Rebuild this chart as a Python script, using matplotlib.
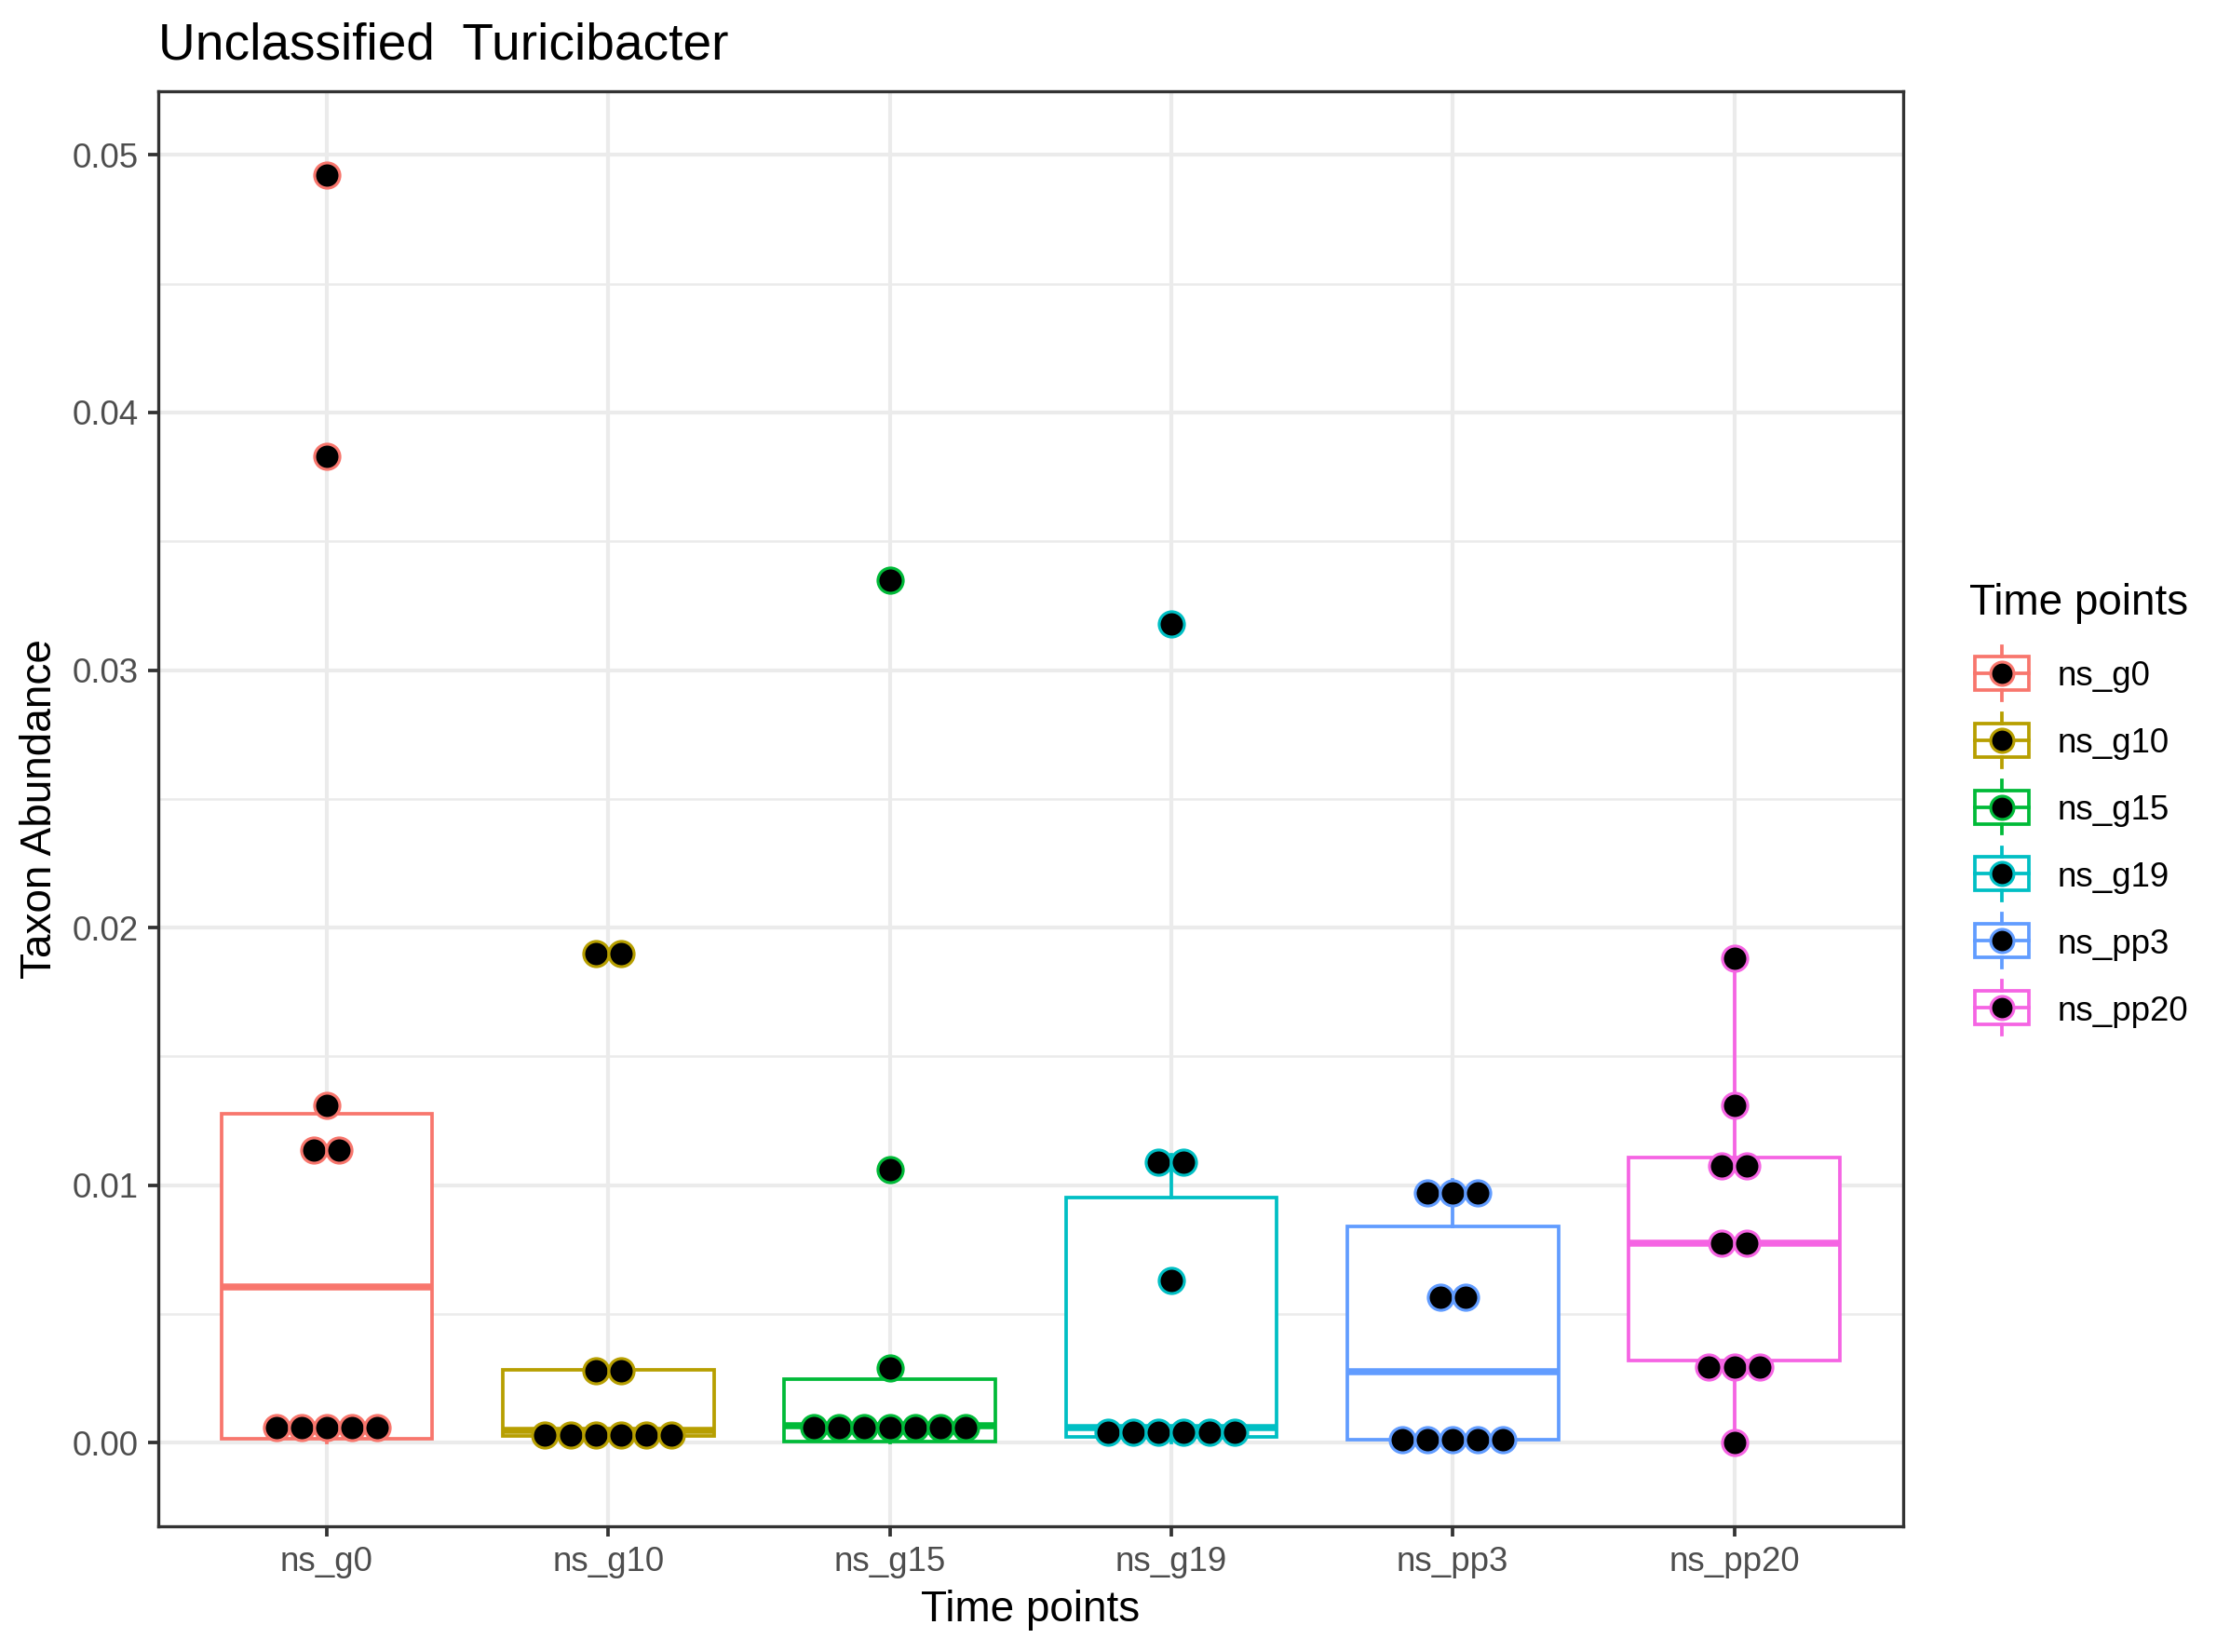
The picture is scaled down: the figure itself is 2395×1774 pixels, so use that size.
import numpy as np
import matplotlib
matplotlib.use("Agg")
import matplotlib.pyplot as plt
from matplotlib.patches import Rectangle
from matplotlib.lines import Line2D

plt.rcParams['font.family'] = ['Liberation Sans', 'DejaVu Sans']

# ---------------- data ----------------
title = "Unclassified  Turicibacter"
x_label = "Time points"
y_label = "Taxon Abundance"
legend_title = "Time points"
groups = ["ns_g0", "ns_g10", "ns_g15", "ns_g19", "ns_pp3", "ns_pp20"]
colors = ["#F8766D", "#B79F00", "#00BA38", "#00BFC4", "#619CFF", "#F564E3"]

ns_g0 = [0.0000, 0.0001, 0.0001, 0.0003, 0.0012, 0.0109, 0.0118, 0.0131, 0.0383, 0.0492]
ns_g10 = [0.0001, 0.0001, 0.0002, 0.0004, 0.0005, 0.0005, 0.0027, 0.0029, 0.0189, 0.0191]
ns_g15 = [0.0000, 0.0000, 0.0000, 0.0002, 0.0006, 0.0007, 0.0012, 0.0029, 0.0106, 0.0335]
ns_g19 = [0.0000, 0.0001, 0.0002, 0.0003, 0.0004, 0.0008, 0.0063, 0.0106, 0.0112, 0.0318]
ns_pp3 = [0.0000, 0.0001, 0.0001, 0.0002, 0.00025, 0.0053, 0.0060, 0.0092, 0.0097, 0.0102]
ns_pp20 = [0.0000, 0.0024, 0.0031, 0.0035, 0.0074, 0.0081, 0.0101, 0.0114, 0.0131, 0.0188]
values = [ns_g0, ns_g10, ns_g15, ns_g19, ns_pp3, ns_pp20]

y_ticks = [0.00, 0.01, 0.02, 0.03, 0.04, 0.05]
y_tick_labels = ["0.00", "0.01", "0.02", "0.03", "0.04", "0.05"]
y_minor = [0.005, 0.015, 0.025, 0.035, 0.045]

# ---------------- style ----------------
W, H, DPI = 2395, 1774, 300
BINWIDTH = 0.0015      # dot-density binning width (y units)
DOT_D = 0.00098        # dot diameter in y units
BOX_W = 0.75
LW = 0.9
GRID_COL = "#EBEBEB"
BORDER_COL = "#333333"
TICK_COL = "#4D4D4D"


def dot_bins(vals, width):
    v = np.sort(np.asarray(vals, dtype=float))
    bins = []
    cur = [v[0]]
    end = v[0] + width
    for x in v[1:]:
        if x >= end - 1e-12:
            bins.append(cur)
            cur = [x]
            end = x + width
        else:
            cur.append(x)
    bins.append(cur)
    return [((min(b) + max(b)) / 2.0, len(b)) for b in bins]


fig = plt.figure(figsize=(W / DPI, H / DPI), dpi=DPI)
pl, pr, pt_, pb = 169.5, 2044.0, 98.0, 1639.0
ax = fig.add_axes([pl / W, 1 - pb / H, (pr - pl) / W, (pb - pt_) / H])

ax.set_xlim(0.4, len(groups) + 0.6)
ax.set_ylim(-0.00324, 0.05247)

# grid
ax.set_yticks(y_ticks)
ax.set_yticklabels(y_tick_labels)
ax.set_yticks(y_minor, minor=True)
ax.set_xticks(range(1, len(groups) + 1))
ax.set_xticklabels(groups)
ax.grid(True, which="major", color=GRID_COL, lw=1.0, zorder=0)
ax.grid(True, which="minor", axis="y", color=GRID_COL, lw=0.6, zorder=0)
ax.set_axisbelow(True)

ax.tick_params(axis="both", which="major", length=2.75, width=0.9, color=BORDER_COL,
               labelcolor=TICK_COL, labelsize=8.8, pad=2.2)
ax.tick_params(axis="both", which="minor", length=0)
for s in ax.spines.values():
    s.set_color(BORDER_COL)
    s.set_linewidth(0.8)
    s.set_zorder(10)

# boxplots
positions = list(range(1, len(groups) + 1))
for i, (vals, col) in enumerate(zip(values, colors)):
    ax.boxplot([vals], positions=[positions[i]], widths=BOX_W, whis=1.5,
               showfliers=False, showcaps=False, patch_artist=True,
               boxprops=dict(facecolor="white", edgecolor=col, linewidth=LW),
               whiskerprops=dict(color=col, linewidth=LW),
               medianprops=dict(color=col, linewidth=LW * 2, solid_capstyle="butt"),
               zorder=2, manage_ticks=False)

# dots (dotplot, binaxis = y, stackdir = center)
fig.canvas.draw()
bb = ax.get_window_extent()
px_per_x = bb.width / (ax.get_xlim()[1] - ax.get_xlim()[0])
px_per_y = bb.height / (ax.get_ylim()[1] - ax.get_ylim()[0])
dot_px = DOT_D * px_per_y
dx = dot_px / px_per_x
dot_pt = dot_px * 72.0 / DPI
for i, (vals, col) in enumerate(zip(values, colors)):
    xs, ys = [], []
    for c, n in dot_bins(vals, BINWIDTH):
        for k in range(n):
            xs.append(positions[i] + (k - (n - 1) / 2.0) * dx)
            ys.append(c)
    ax.scatter(xs, ys, s=dot_pt ** 2, facecolor="black", edgecolor=col,
               linewidths=0.75, zorder=3, clip_on=False)

# titles
fig.text(pl / W, 1 - 63 / H, title, fontsize=13.2, ha="left", va="baseline", color="black")
fig.text((pl + pr) / 2 / W, 1 - 1741 / H, x_label, fontsize=11, ha="center",
         va="baseline", color="black")
fig.text(55 / W, 1 - (pt_ + pb) / 2 / H, y_label, fontsize=11, rotation=90,
         rotation_mode="anchor", ha="center", va="baseline", color="black")

# legend (drawn in pixel coordinates of the figure)
lax = fig.add_axes([0, 0, 1, 1], facecolor="none")
lax.set_xlim(0, W)
lax.set_ylim(H, 0)
lax.axis("off")
lax.text(2115, 660, legend_title, fontsize=11, ha="left", va="baseline", color="black")
key = 72.0
kx0 = 2114.0
ky0 = 723.0 - key / 2
for i, (g, col) in enumerate(zip(groups, colors)):
    top = ky0 + i * 71.8
    cx = kx0 + key / 2
    cy = top + key / 2
    lax.add_patch(Rectangle((kx0 + 0.1 * key, top + 0.25 * key), 0.8 * key, 0.5 * key,
                            facecolor="white", edgecolor=col, lw=LW))
    lax.add_line(Line2D([kx0 + 0.1 * key, kx0 + 0.9 * key], [cy, cy], color=col, lw=LW))
    lax.add_line(Line2D([cx, cx], [top + 0.1 * key, top + 0.25 * key], color=col, lw=LW))
    lax.add_line(Line2D([cx, cx], [top + 0.75 * key, top + 0.9 * key], color=col, lw=LW))
    lax.scatter([cx], [cy], s=(dot_pt * 0.92) ** 2, facecolor="black", edgecolor=col,
                linewidths=0.75, zorder=3)
    lax.text(2210, cy, g, fontsize=8.8, ha="left", va="center_baseline", color="black")

fig.savefig("out.png", dpi=DPI)
